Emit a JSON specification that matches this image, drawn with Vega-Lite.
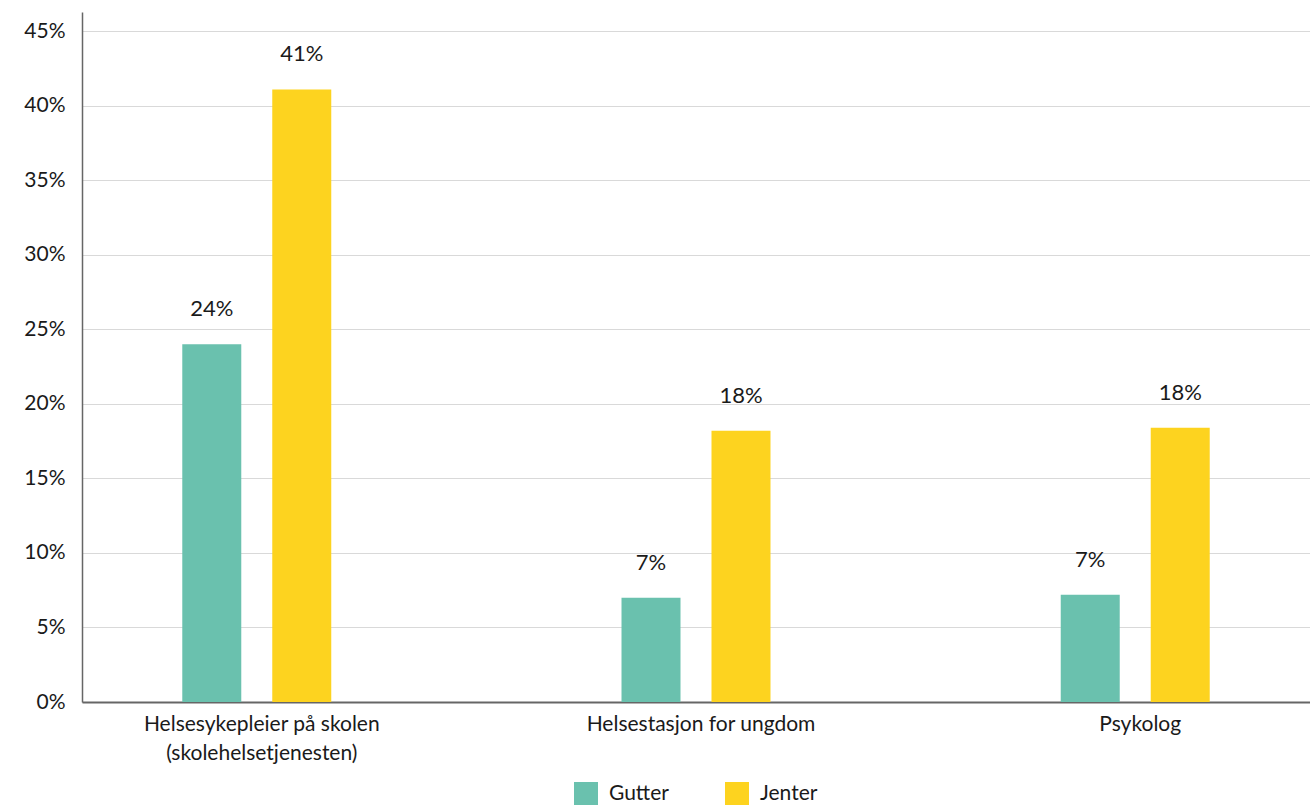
{
  "$schema": "https://vega.github.io/schema/vega-lite/v6.json",
  "width": 1228,
  "height": 690,
  "autosize": {"type": "none"},
  "padding": {"left": 82, "top": 12, "right": 0, "bottom": 103},
  "background": "white",
  "config": {
    "font": "Lato",
    "view": {"stroke": null},
    "text": {"color": "#1a1a1a"},
    "legend": {"layout": {"bottom": {"anchor": "middle"}}}
  },
  "data": {
    "values": [
      {"kategori": "Helsesykepleier på skolen (skolehelsetjenesten)", "kjonn": "Gutter", "andel": 0.240},
      {"kategori": "Helsesykepleier på skolen (skolehelsetjenesten)", "kjonn": "Jenter", "andel": 0.411},
      {"kategori": "Helsestasjon for ungdom", "kjonn": "Gutter", "andel": 0.070},
      {"kategori": "Helsestasjon for ungdom", "kjonn": "Jenter", "andel": 0.182},
      {"kategori": "Psykolog", "kjonn": "Gutter", "andel": 0.072},
      {"kategori": "Psykolog", "kjonn": "Jenter", "andel": 0.184}
    ]
  },
  "encoding": {
    "x": {
      "field": "kategori",
      "type": "nominal",
      "sort": ["Helsesykepleier på skolen (skolehelsetjenesten)", "Helsestasjon for ungdom", "Psykolog"],
      "scale": {"paddingInner": 0.6608, "paddingOuter": 0.2283},
      "axis": {
        "title": null,
        "labelAngle": 0,
        "ticks": false,
        "grid": false,
        "domainColor": "#666666",
        "domainWidth": 2,
        "labelPadding": 11,
        "labelOffset": 5,
        "labelFontSize": 21,
        "labelColor": "#1a1a1a",
        "labelLineHeight": 29,
        "labelLimit": 400,
        "labelExpr": "datum.label == 'Helsesykepleier på skolen (skolehelsetjenesten)' ? ['Helsesykepleier på skolen', '(skolehelsetjenesten)'] : datum.label"
      }
    },
    "xOffset": {
      "field": "kjonn",
      "sort": ["Gutter", "Jenter"],
      "scale": {"paddingInner": 0.3444, "paddingOuter": 0}
    },
    "y": {
      "field": "andel",
      "type": "quantitative",
      "scale": {"domain": [0, 0.463], "nice": false},
      "axis": {
        "title": null,
        "values": [0, 0.05, 0.1, 0.15, 0.2, 0.25, 0.3, 0.35, 0.4, 0.45],
        "format": ".0%",
        "ticks": false,
        "grid": true,
        "gridColor": "#d9d9d9",
        "gridWidth": 1,
        "domainColor": "#666666",
        "domainWidth": 1.5,
        "labelPadding": 17,
        "labelFontSize": 21,
        "labelColor": "#1a1a1a"
      }
    }
  },
  "layer": [
    {
      "mark": {"type": "bar"},
      "encoding": {
        "color": {
          "field": "kjonn",
          "type": "nominal",
          "sort": ["Gutter", "Jenter"],
          "scale": {"domain": ["Gutter", "Jenter"], "range": ["#6AC1AE", "#FDD31F"]},
          "legend": {
            "title": null,
            "orient": "bottom",
            "direction": "horizontal",
            "symbolType": "square",
            "symbolSize": 576,
            "symbolStrokeWidth": 0,
            "symbolOpacity": 1,
            "labelFontSize": 21,
            "labelColor": "#1a1a1a",
            "labelOffset": 11,
            "columnPadding": 56,
            "offset": 19
          }
        }
      }
    },
    {
      "mark": {"type": "text", "dy": -35, "fontSize": 22, "baseline": "middle", "color": "#1a1a1a"},
      "encoding": {
        "text": {"field": "andel", "type": "quantitative", "format": ".0%"}
      }
    }
  ]
}
